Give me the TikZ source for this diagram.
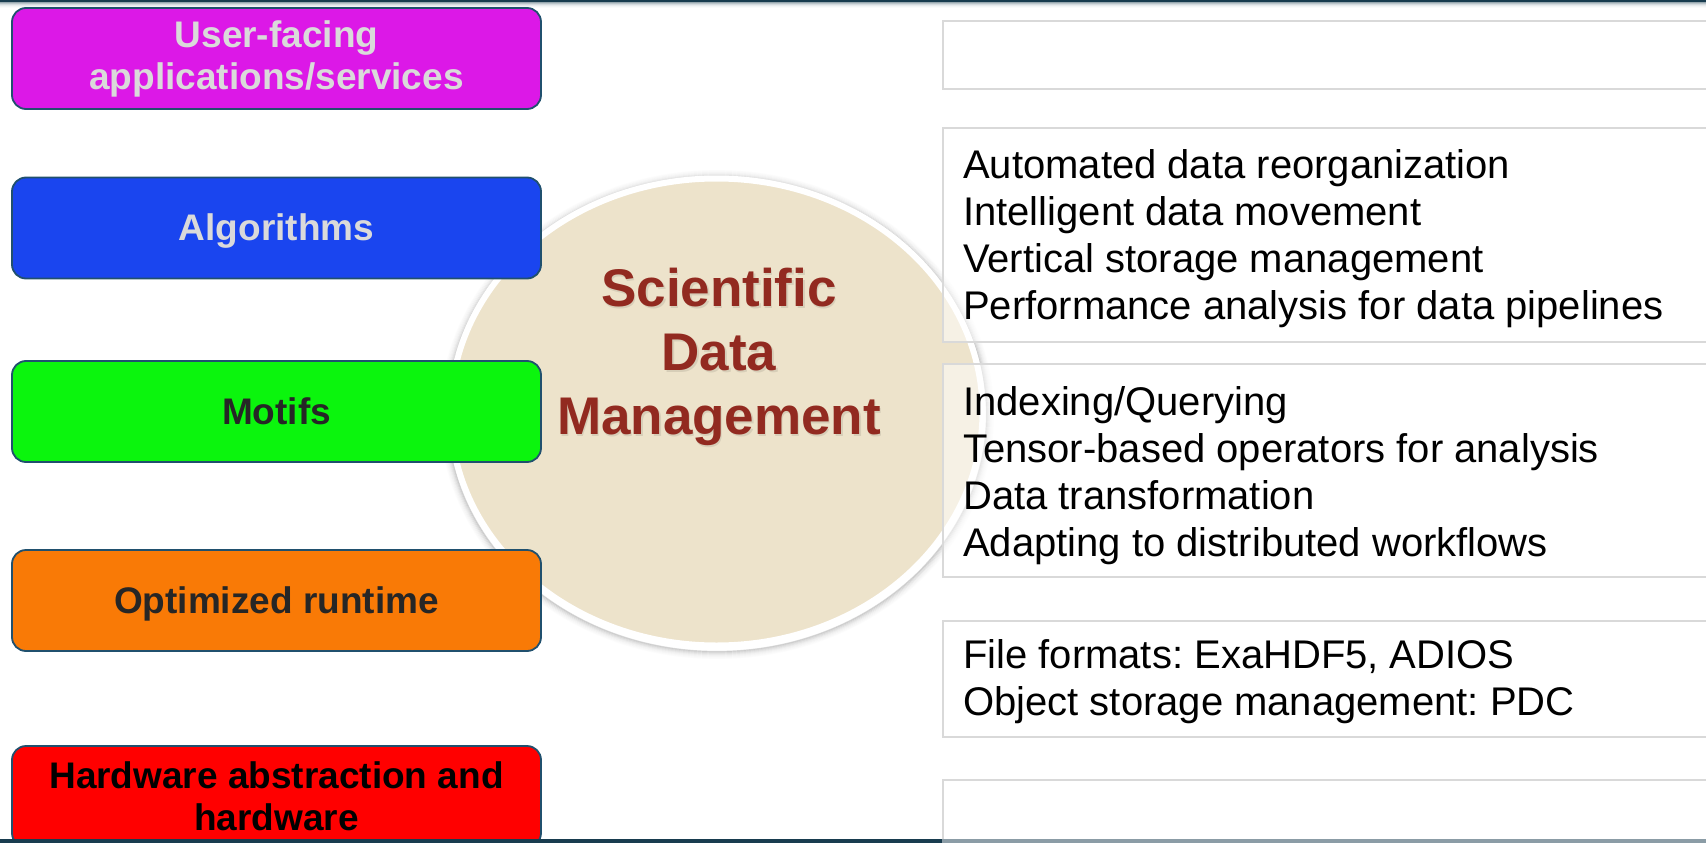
\documentclass[tikz,border=0pt]{standalone}
\usepackage{fontspec}
\setmainfont{Liberation Sans}
\usetikzlibrary{shapes.geometric}
\frenchspacing

\definecolor{magentabox}{HTML}{DC18E7}
\definecolor{bluebox}{HTML}{1A45EF}
\definecolor{greenbox}{HTML}{0BF50D}
\definecolor{orangebox}{HTML}{F97A06}
\definecolor{redbox}{HTML}{FF0000}
\definecolor{boxedge}{HTML}{20506E}
\definecolor{lighttext}{HTML}{DADADA}
\definecolor{darktext}{HTML}{262626}
\definecolor{corefill}{HTML}{EDE3CB}
\definecolor{coretext}{HTML}{922A20}
\definecolor{panelgray}{HTML}{D9D9D9}
\definecolor{barteal}{HTML}{183C4F}
\definecolor{bargray}{HTML}{8B9CA6}

\tikzset{
  layerbox/.style={rounded corners=14pt, draw=boxedge, line width=1.8pt,
    minimum width=529pt, minimum height=101pt, inner sep=0pt, align=center,
    font=\bfseries\fontsize{37}{42}\selectfont},
  oneline/.style={text height=33.5pt, text depth=7.8pt},
  panel/.style={draw=panelgray, line width=2pt, fill=white, fill opacity=0.5,
    anchor=north west, minimum width=800pt, inner sep=0pt},
  paneltext/.style={anchor=base west, inner sep=0pt,
    font=\fontsize{40}{47.3}\selectfont},
  coretitle/.style={anchor=base, inner sep=0pt,
    font=\bfseries\fontsize{53}{64}\selectfont}
}

\begin{document}
\begin{tikzpicture}[x=1pt,y=-1pt]
\clip (0,0) rectangle (1706,843);
\fill[white] (0,0) rectangle (1706,843);

% soft shadow round the central disc
\foreach \i/\o in {1/0.16,2/0.12,3/0.09,4/0.065,5/0.045,6/0.03,7/0.018,8/0.01}
  \draw[black, opacity=\o, line width=1.2pt]
    (717,414.5) ellipse [x radius=268.5+\i, y radius=236+\i];

% central disc
\node[ellipse, draw=white, line width=6pt, fill=corefill, inner sep=0pt,
      minimum width=532pt, minimum height=467pt] (core) at (716.5,412) {};

% panels on the right
\node[panel, minimum height=68pt]    (r1) at (942,20)  {};
\node[panel, minimum height=213.5pt] (r2) at (942,127) {};
\node[panel, minimum height=212.5pt] (r3) at (942,363) {};
\node[panel, minimum height=116pt]   (r4) at (942,620) {};
\node[panel, minimum height=80pt]    (r5) at (942,779) {};

\node[paneltext] (t2) at (963,178) {\begin{tabular}[t]{@{}l@{}}
  Automated data reorganization\\
  Intelligent data movement\\
  Vertical storage management\\
  Performance analysis for data pipelines\end{tabular}};
\node[paneltext] (t3) at (963,415) {\begin{tabular}[t]{@{}l@{}}
  Indexing/Querying\\
  Tensor-based operators for analysis\\
  Data transformation\\
  Adapting to distributed workflows\end{tabular}};
\node[paneltext] (t4) at (963,668.5) {\begin{tabular}[t]{@{}l@{}}
  File formats: ExaHDF5, ADIOS\\
  Object storage management: PDC\end{tabular}};

% layer boxes on the left
\node[layerbox, fill=magentabox, text=lighttext] (uf) at (276.5,58.5)
  {User-facing\\applications/services};
\node[layerbox, oneline, fill=bluebox, text=lighttext] (alg) at (276.5,228) {Algorithms};
\node[layerbox, oneline, fill=greenbox, text=darktext] (mot) at (276.5,411.5) {Motifs};
\node[layerbox, oneline, fill=orangebox, text=darktext] (opt) at (276.5,600.5) {Optimized runtime};
\node[layerbox, fill=redbox, text=black] (hw) at (276.5,796.5)
  {Hardware abstraction and\\hardware};

% title of the disc, with its soft shadow
\node[coretitle, text=black, opacity=0.09] (sdmshadow) at (720.5,308.5)
  {\begin{tabular}[t]{@{}c@{}}Scientific\\Data\\Management\end{tabular}};
\node[coretitle, text=coretext] (sdm) at (719,306.5)
  {\begin{tabular}[t]{@{}c@{}}Scientific\\Data\\Management\end{tabular}};

% top rule with its fading edge
\fill[barteal] (0,0) rectangle (1706,2.5);
\foreach \k/\o in {0/0.45,1/0.3,2/0.18,3/0.1,4/0.05,5/0.02}
  \fill[barteal, opacity=\o] (0,2.5+\k) rectangle (1706,3.5+\k);

% bottom rule
\fill[barteal] (0,839.3) rectangle (942,843);
\fill[bargray] (942,839.3) rectangle (1706,843);
\end{tikzpicture}
\end{document}
